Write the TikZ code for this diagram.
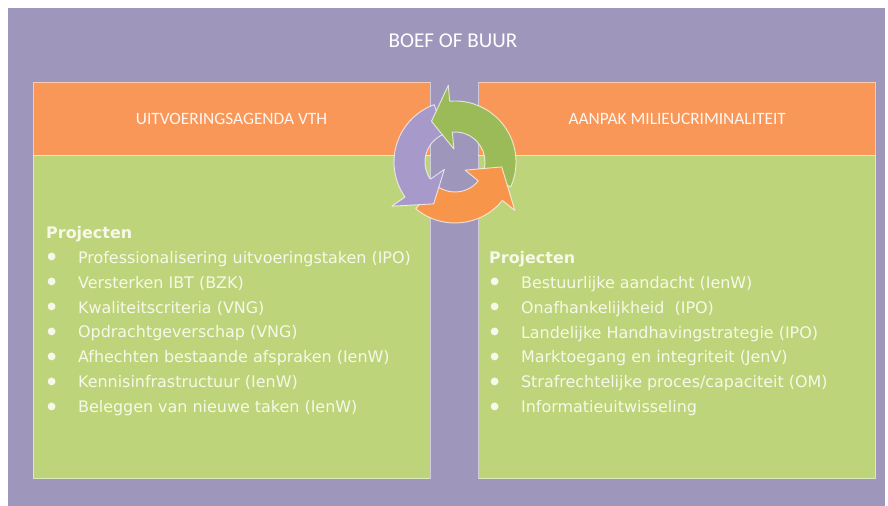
\documentclass[tikz,border=0pt]{standalone}
\usepackage{fontspec}
\setmainfont{DejaVu Sans}
\newfontfamily\kopletter{Carlito}
\usetikzlibrary{positioning}

\definecolor{boefpaars}{RGB}{159,151,187}
\definecolor{koporanje}{RGB}{249,151,89}
\definecolor{vakgroen}{RGB}{190,212,122}
\definecolor{pijlgroen}{RGB}{155,187,89}
\definecolor{pijlpaars}{RGB}{167,153,201}
\definecolor{pijloranje}{RGB}{247,150,75}
\definecolor{lijsttekst}{RGB}{246,249,233}

\newcommand{\bol}{\makebox[27.2pt][l]{\hspace{1pt}\raisebox{3pt}{\fontsize{8.5}{8.5}\selectfont ●}}}

\begin{document}
\begin{tikzpicture}[x=0.03cm,y=0.03cm,
achtergrond/.style={fill=boefpaars, minimum width=26.31cm, minimum height=14.93cm, inner sep=0},
kop/.style={fill=koporanje, draw=white, draw opacity=0.5, line width=0.6pt, minimum width=11.91cm, minimum height=2.19cm, inner sep=0, text=white!92!koporanje, font=\kopletter\fontsize{14.8}{18}\selectfont},
vak/.style={fill=vakgroen, draw=white, draw opacity=0.5, line width=0.6pt, minimum width=11.91cm, minimum height=9.69cm, inner sep=0},
lijst/.style={align=left, inner sep=0, anchor=north west, text=lijsttekst, font=\fontsize{13.6}{21.26}\selectfont},
rand/.style={draw=white, draw opacity=0.7, line width=0.8pt, line join=round}]
\useasboundingbox (0,0) rectangle (888,506);
\node[achtergrond] (boef) at (446.5,248.75) {};
\node[text=white, font=\kopletter\fontsize{18}{22}\selectfont] (titel) at (453,465) {BOEF OF BUUR};
\node[kop] (kopvth) at (231.5,387.5) {UITVOERINGSAGENDA VTH};
\node[kop, right=1.44cm of kopvth] (kopmilieu) {AANPAK MILIEUCRIMINALITEIT};
\node[vak, below=0pt of kopvth] (vakvth) {};
\node[vak, below=0pt of kopmilieu] (vakmilieu) {};
% projectlijsten
\node[lijst] (lijstvth) at (46,280) {\textbf{Projecten}\\
\bol Professionalisering uitvoeringstaken (IPO)\\
\bol Versterken IBT (BZK)\\
\bol Kwaliteitscriteria (VNG)\\
\bol Opdrachtgeverschap (VNG)\\
\bol Afhechten bestaande afspraken (IenW)\\
\bol Kennisinfrastructuur (IenW)\\
\bol Beleggen van nieuwe taken (IenW)};
\node[lijst] (lijstmilieu) at (489,255) {\textbf{Projecten}\\
\bol Bestuurlijke aandacht (IenW)\\
\bol Onafhankelijkheid~ (IPO)\\
\bol Landelijke Handhavingstrategie (IPO)\\
\bol Marktoegang en integriteit (JenV)\\
\bol Strafrechtelijke proces/capaciteit (OM)\\
\bol Informatieuitwisseling};
% kringloop van drie pijlen
\begin{scope}[shift={(455,344)}]
\foreach \kleur/\staart/\voet in {pijlgroen/-24/95, pijlpaars/110/215, pijloranje/230/321}{
\fill[\kleur] (\staart:61) arc[start angle=\staart, end angle=\voet+1, radius=61] -- (\voet+1:30) arc[start angle=\voet+1, end angle=\staart, radius=30] -- cycle;
\draw[rand] (\voet:61) arc[start angle=\voet, end angle=\staart, radius=61] -- (\staart:30) arc[start angle=\staart, end angle=\voet, radius=30];
}
\foreach \kleur/\voet/\punt in {pijlgroen/95/120, pijlpaars/215/243, pijloranje/321/354}{
\fill[\kleur] (\voet:30) -- (\voet:13) -- (\punt:47) -- (\voet:77) -- (\voet:61) -- cycle;
\draw[rand] (\voet:30) -- (\voet:13) -- (\punt:47) -- (\voet:77) -- (\voet:61);
}
\end{scope}
\end{tikzpicture}
\end{document}
